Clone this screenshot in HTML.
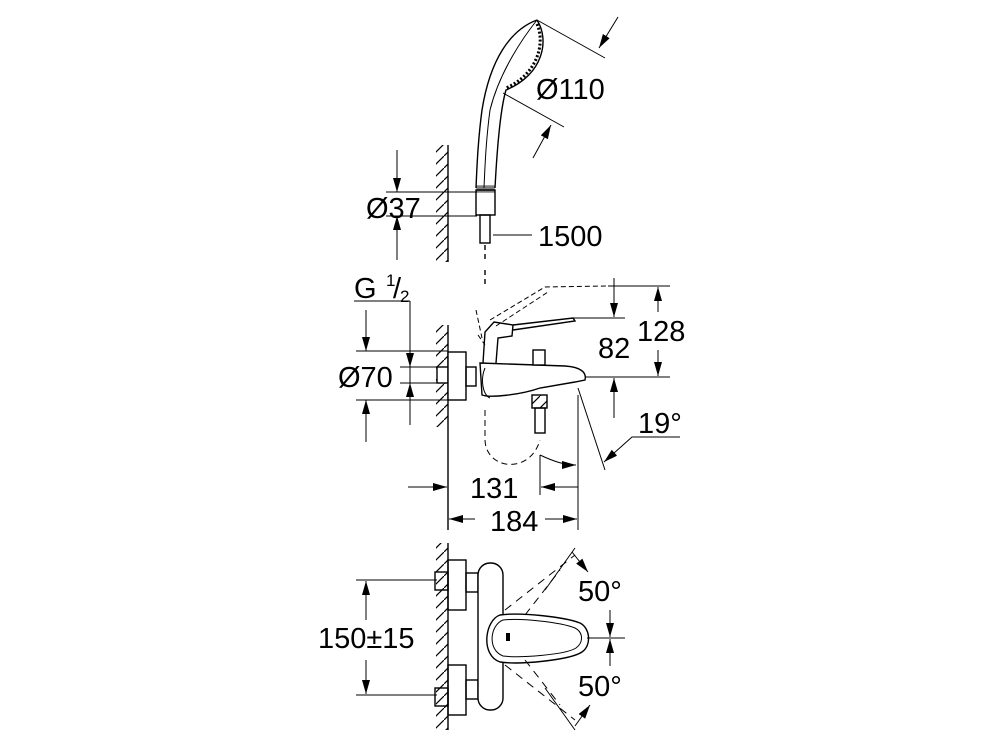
<!DOCTYPE html>
<html><head><meta charset="utf-8"><style>
html,body{margin:0;padding:0;background:#fff}
svg{display:block}
text{font-family:"Liberation Sans",sans-serif;fill:#000}
</style></head><body>
<svg width="1000" height="750" viewBox="0 0 1000 750" xmlns="http://www.w3.org/2000/svg">
<defs>
<marker id="a" viewBox="0 0 14 8" refX="14" refY="4" markerWidth="14" markerHeight="8" orient="auto-start-reverse" markerUnits="userSpaceOnUse"><path d="M0,0 L14,4 L0,8 z" fill="#000"/></marker>
<pattern id="h" width="12" height="12" patternUnits="userSpaceOnUse"><path d="M0,12 L12,0" stroke="#000" stroke-width="1.2"/></pattern>
</defs>
<g fill="none" stroke="#000" stroke-width="1.4">
<!-- TOP: shower -->
<line x1="448" y1="145" x2="448" y2="262"/>
<rect x="436" y="145" width="12" height="117" fill="url(#h)" stroke="none"/>
<path d="M537,20 C510,30 490,60 482,110 C478,140 477,165 476,188"/>
<path d="M537,20 C525,35 500,70 490,110 C486,140 485,165 484,188" stroke-width="1"/>
<path d="M537,20 C550,40 543,75 506,90 C500,110 497,150 495,188"/>
<path d="M537,24 C546,45 536,75 506,88" stroke-width="3" stroke-dasharray="2,2"/>
<rect x="476" y="190" width="19" height="25"/>
<rect x="477" y="186" width="17" height="6" fill="#000" opacity=".5"/>
<rect x="480" y="215" width="10" height="28"/>
<line x1="485" y1="245" x2="485" y2="262" stroke-dasharray="5,4"/>
<line x1="537" y1="20" x2="605" y2="58" stroke-width="1"/>
<line x1="618" y1="17" x2="599" y2="48" marker-end="url(#a)" stroke-width="1"/>
<line x1="503" y1="93" x2="564" y2="127" stroke-width="1"/>
<line x1="533" y1="158" x2="551" y2="125" marker-end="url(#a)" stroke-width="1"/>
<line x1="386" y1="192" x2="477" y2="192" stroke-width="1"/>
<line x1="386" y1="216" x2="477" y2="216" stroke-width="1"/>
<line x1="397" y1="150" x2="397" y2="192" marker-end="url(#a)" stroke-width="1"/>
<line x1="397" y1="260" x2="397" y2="216" marker-end="url(#a)" stroke-width="1"/>
<line x1="493" y1="235" x2="532" y2="235" stroke-width="1"/>

<!-- MIDDLE -->
<line x1="485" y1="270" x2="485" y2="287" stroke-dasharray="5,4"/>
<line x1="448" y1="325" x2="448" y2="530"/>
<rect x="436" y="325" width="12" height="102" fill="url(#h)" stroke="none"/>
<line x1="354" y1="301" x2="410" y2="301" stroke-width="1"/>
<line x1="410" y1="301" x2="410" y2="425" stroke-width="1"/>
<line x1="410" y1="330" x2="410" y2="367" marker-end="url(#a)" stroke-width="1"/>
<line x1="410" y1="420" x2="410" y2="383" marker-end="url(#a)" stroke-width="1"/>
<line x1="356" y1="351" x2="448" y2="351" stroke-width="1"/>
<line x1="356" y1="400" x2="448" y2="400" stroke-width="1"/>
<line x1="400" y1="367" x2="437" y2="367" stroke-width="1"/>
<line x1="400" y1="383" x2="437" y2="383" stroke-width="1"/>
<line x1="366" y1="310" x2="366" y2="351" marker-end="url(#a)" stroke-width="1"/>
<line x1="366" y1="442" x2="366" y2="400" marker-end="url(#a)" stroke-width="1"/>
<rect x="437" y="367" width="11" height="16" fill="#fff"/>
<rect x="448" y="352" width="18" height="48" fill="#fff"/>
<rect x="466" y="367" width="10" height="19"/>
<path d="M480,363 L565,366 C580,367 587,372 585,380 L575,382 L540,388 C520,395 490,398 482,395 Z" fill="#fff"/>
<path d="M485,368 C480,380 483,395 490,398" stroke-width="1"/>
<path d="M483,363 L485,332 L494,322 L513,325 L512,336 L498,338 L496,363"/>
<path d="M513,325 L573,318 L575,321 L513,330"/>
<path d="M490,320 L545,287 L608,286" stroke-dasharray="5,3" stroke-width="1"/>
<path d="M496,326 L548,292" stroke-dasharray="5,3" stroke-width="1"/>
<path d="M478,335 L485,345 M476,310 L482,338" stroke-dasharray="5,3" stroke-width="1"/>
<rect x="533" y="350" width="12" height="15" fill="#fff"/>
<rect x="532" y="395" width="15" height="13" fill="url(#h)"/>
<rect x="535" y="408" width="10" height="25"/>
<path d="M485,410 L485,440 C486,470 530,475 540,440" stroke-dasharray="6,4" stroke-width="1"/>
<path d="M540,455 C555,462 565,465 576,465" stroke-width="1" marker-end="url(#a)"/>
<line x1="608" y1="286" x2="625" y2="286" stroke-width="1"/>
<line x1="614" y1="278" x2="614" y2="317" marker-end="url(#a)" stroke-width="1"/>
<line x1="573" y1="318" x2="625" y2="318" stroke-width="1"/>
<line x1="585" y1="377" x2="670" y2="377" stroke-width="1"/>
<line x1="614" y1="418" x2="614" y2="378" marker-end="url(#a)" stroke-width="1"/>
<line x1="625" y1="286" x2="670" y2="286" stroke-width="1"/>
<line x1="658" y1="312" x2="658" y2="287" marker-end="url(#a)" stroke-width="1"/>
<line x1="658" y1="350" x2="658" y2="376" marker-end="url(#a)" stroke-width="1"/>
<line x1="578" y1="388" x2="605" y2="470" stroke-width="1"/>
<path d="M680,437 L632,437 L604,462" stroke-width="1" marker-end="url(#a)"/>
<line x1="578" y1="395" x2="578" y2="530" stroke-width="1"/>
<line x1="540" y1="455" x2="540" y2="495" stroke-width="1"/>
<line x1="408" y1="487" x2="447" y2="487" marker-end="url(#a)" stroke-width="1"/>
<line x1="578" y1="487" x2="541" y2="487" marker-end="url(#a)" stroke-width="1"/>
<line x1="475" y1="519" x2="449" y2="519" marker-end="url(#a)" stroke-width="1"/>
<line x1="545" y1="519" x2="577" y2="519" marker-end="url(#a)" stroke-width="1"/>

<!-- BOTTOM -->
<line x1="448" y1="543" x2="448" y2="730"/>
<rect x="436" y="543" width="12" height="187" fill="url(#h)" stroke="none"/>
<line x1="356" y1="580" x2="437" y2="580" stroke-width="1"/>
<line x1="356" y1="695" x2="437" y2="695" stroke-width="1"/>
<line x1="366" y1="620" x2="366" y2="581" marker-end="url(#a)" stroke-width="1"/>
<line x1="366" y1="660" x2="366" y2="694" marker-end="url(#a)" stroke-width="1"/>
<rect x="435" y="572" width="13" height="18"/>
<rect x="435" y="688" width="13" height="18"/>
<rect x="448" y="560" width="18" height="50"/>
<rect x="448" y="665" width="18" height="50"/>
<rect x="466" y="573" width="12" height="19"/>
<rect x="466" y="680" width="12" height="19"/>
<rect x="478" y="563" width="25" height="147" rx="12" fill="#fff"/>
<path d="M500,615 C485,620 480,655 500,662 C520,665 570,660 582,652 C592,645 590,628 580,623 C565,617 520,612 500,615 Z" fill="#fff"/>
<path d="M503,620 C490,625 487,650 503,656 C520,658 565,655 576,648 C584,642 583,632 575,628 C560,622 520,618 503,620 Z" stroke-width="1"/>
<rect x="506" y="633" width="4" height="8" fill="#000" stroke="none"/>
<path d="M505,610 L575,555" stroke-dasharray="8,6" stroke-width="1"/>
<path d="M525,615 L560,570" stroke-dasharray="8,6" stroke-width="1"/>
<path d="M505,665 L575,720" stroke-dasharray="8,6" stroke-width="1"/>
<path d="M525,660 L560,705" stroke-dasharray="8,6" stroke-width="1"/>
<line x1="545" y1="590" x2="575" y2="548" stroke-width="1"/>
<line x1="572" y1="552" x2="588" y2="572" marker-end="url(#a)" stroke-width="1"/>
<line x1="545" y1="688" x2="575" y2="730" stroke-width="1"/>
<line x1="575" y1="726" x2="590" y2="705" marker-end="url(#a)" stroke-width="1"/>
<line x1="587" y1="638" x2="625" y2="638" stroke-width="1"/>
<line x1="610" y1="610" x2="610" y2="637" marker-end="url(#a)" stroke-width="1"/>
<line x1="610" y1="666" x2="610" y2="639" marker-end="url(#a)" stroke-width="1"/>
</g>
<g font-size="29">
<text x="536" y="99">Ø110</text>
<text x="366" y="218">Ø37</text>
<text x="538" y="246">1500</text>
<text x="354" y="298">G</text>
<text x="386" y="286" font-size="17">1</text>
<text x="393" y="298">/</text>
<text x="400" y="302" font-size="17">2</text>
<text x="338" y="387">Ø70</text>
<text x="598" y="358">82</text>
<text x="637" y="341">128</text>
<text x="638" y="433">19°</text>
<text x="470" y="498">131</text>
<text x="490" y="531">184</text>
<text x="318" y="648">150±15</text>
<text x="578" y="601">50°</text>
<text x="578" y="696">50°</text>
</g>
</svg>
</body></html>
